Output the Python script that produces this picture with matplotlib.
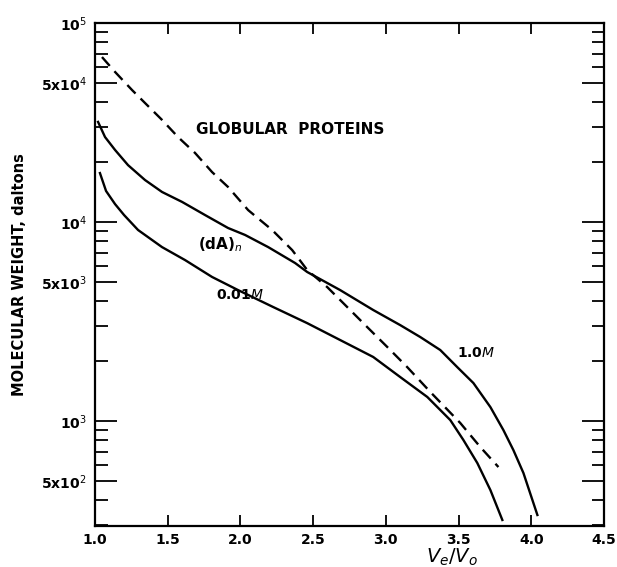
import matplotlib
matplotlib.use("Agg")
import matplotlib.pyplot as plt
import numpy as np
from matplotlib.ticker import FixedLocator, NullFormatter

# Data: x = Ve/Vo, y = log10(molecular weight)
glob_x = [1.048, 1.138, 1.255, 1.344, 1.461, 1.571, 1.688, 1.805, 1.915, 2.053, 2.218,
          2.356, 2.459, 2.597, 2.734, 2.872, 3.010, 3.147, 3.306, 3.512, 3.650, 3.774]
glob_logy = [4.829, 4.754, 4.663, 4.598, 4.513, 4.427, 4.347, 4.251, 4.176, 4.060, 3.960,
             3.859, 3.759, 3.673, 3.573, 3.472, 3.372, 3.271, 3.146, 2.990, 2.869, 2.769]

m10_x = [1.021, 1.069, 1.138, 1.227, 1.344, 1.461, 1.599, 1.757, 1.915, 2.032, 2.191,
         2.376, 2.459, 2.686, 2.913, 3.099, 3.237, 3.374, 3.491, 3.602, 3.719, 3.808,
         3.877, 3.946, 4.042]
m10_logy = [4.503, 4.427, 4.362, 4.286, 4.211, 4.151, 4.101, 4.035, 3.970, 3.935, 3.874,
            3.794, 3.749, 3.658, 3.558, 3.482, 3.422, 3.357, 3.271, 3.191, 3.070, 2.955,
            2.854, 2.739, 2.528]

m001_x = [1.034, 1.076, 1.138, 1.200, 1.296, 1.461, 1.619, 1.805, 1.984, 2.225, 2.459,
          2.686, 2.913, 3.099, 3.285, 3.443, 3.533, 3.629, 3.719, 3.801]
m001_logy = [4.246, 4.156, 4.090, 4.035, 3.960, 3.874, 3.809, 3.724, 3.658, 3.573, 3.492,
             3.407, 3.322, 3.221, 3.121, 3.005, 2.905, 2.789, 2.653, 2.503]

x_ticks = [1.0, 1.5, 2.0, 2.5, 3.0, 3.5, 4.0, 4.5]
x_labels = ["1.0", "1.5", "2.0", "2.5", "3.0", "3.5", "4.0", "4.5"]
y_ticks = [500, 1000, 5000, 10000, 50000, 100000]
y_labels = ["5x10$^{2}$", "10$^{3}$", "5x10$^{3}$", "10$^{4}$", "5x10$^{4}$", "10$^{5}$"]

fig = plt.figure(figsize=(6.17, 5.67), dpi=100)
ax = fig.add_axes([95/617, 41/567, 509/617, 503/567])

ax.plot(glob_x, 10**np.array(glob_logy), color="black", lw=1.7, dashes=(5, 3))
ax.plot(m10_x, 10**np.array(m10_logy), color="black", lw=1.7)
ax.plot(m001_x, 10**np.array(m001_logy), color="black", lw=1.7)

ax.set_yscale("log")
ax.set_xlim(1.0, 4.5)
ax.set_ylim(297, 100000)

ax.set_xticks(x_ticks)
ax.set_xticklabels(x_labels, fontsize=10, fontweight="bold")
ax.set_yticks(y_ticks)
ax.set_yticklabels(y_labels, fontsize=10, fontweight="bold")
minor = [m * 10**e for e in (2, 3, 4) for m in range(2, 10)]
minor = [v for v in minor if v not in y_ticks and 297 < v < 100000]
ax.yaxis.set_minor_locator(FixedLocator(minor))
ax.yaxis.set_minor_formatter(NullFormatter())
ax.xaxis.set_minor_locator(FixedLocator([]))

ax.tick_params(axis="x", which="major", direction="in", length=8, width=1.3, top=True, pad=5)
ax.tick_params(axis="y", which="major", direction="in", length=16, width=1.3, right=True, pad=6)
ax.tick_params(axis="y", which="minor", direction="in", length=9, width=1.3, right=True)
for s in ax.spines.values():
    s.set_linewidth(1.6)

ax.set_ylabel("MOLECULAR WEIGHT, daltons", fontsize=10.5, fontweight="bold", labelpad=10)
fig.text(452/617, 1 - 557/567, "$V_e/V_o$", fontsize=14, ha="center", va="center")

ax.text(1.0 + (290-95)/145.3, 10**(5 - (129-23)/199), "GLOBULAR  PROTEINS",
        fontsize=11, fontweight="bold", ha="center", va="center")
ax.text(1.0 + (220-95)/145.3, 10**(5 - (245-23)/199), "(dA)$_n$",
        fontsize=11, fontweight="bold", ha="center", va="center")
ax.text(1.0 + (240-95)/145.3, 10**(5 - (295-23)/199), "0.01$M$",
        fontsize=10, fontweight="bold", ha="center", va="center")
ax.text(1.0 + (476-95)/145.3, 10**(5 - (353-23)/199), "1.0$M$",
        fontsize=10, fontweight="bold", ha="center", va="center")

fig.savefig("out.png", dpi=100)
